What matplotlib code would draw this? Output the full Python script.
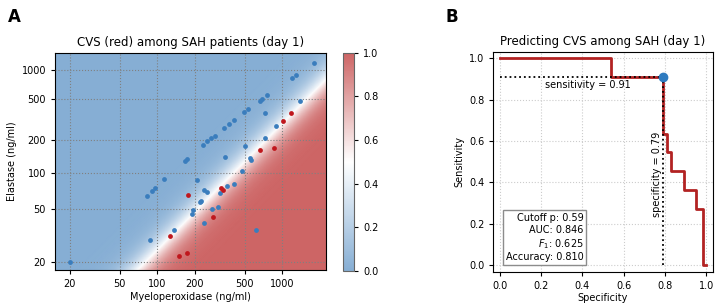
import numpy as np
import matplotlib
matplotlib.use("Agg")
import matplotlib.pyplot as plt
from matplotlib.colors import LinearSegmentedColormap
from matplotlib.ticker import FixedLocator, FixedFormatter, NullLocator

# ---------------- data ----------------
# Panel A: patients without CVS (blue) and with CVS (red)
mpo_neg = [20, 88, 137, 82, 91, 96, 113, 167, 174, 209, 189, 194, 219, 223, 237, 238,
           251, 275, 304, 317, 363, 407, 351, 231, 251, 270, 288, 340, 372, 411, 494,
           535, 503, 547, 562, 473, 616, 660, 692, 755, 727, 731, 889, 1195, 1294,
           1385, 1777]
ela_neg = [20, 29, 34, 64, 70, 74, 88, 128, 133, 87, 46, 49, 57, 58, 39, 71,
           69, 50, 52, 68, 78, 81, 138, 178, 193, 207, 218, 259, 279, 306, 367,
           396, 176, 136, 129, 104, 34, 479, 502, 547, 362, 208, 268, 825, 886,
           471, 1188]
mpo_pos = [127, 150, 174, 175, 281, 326, 337, 667, 862, 1012, 1184]
ela_pos = [31, 22, 23, 65, 43, 74, 71, 159, 167, 298, 362]

# logistic model for background probability (in axis-transformed coords)
coef_mpo = 5.0
coef_ela = -19.5
intercept = 11.85

tick_vals = [20, 50, 100, 200, 500, 1000]
tick_labels = ["20", "50", "100", "200", "500", "1000"]

# Panel B: ROC curve
roc_spec = [0.0, 0.54, 0.79, 0.81, 0.83, 0.89, 0.95, 0.985, 1.0]
roc_sens = [1.0, 0.909, 0.636, 0.545, 0.455, 0.364, 0.273, 0.0, 0.0]
cut_spec = 0.79
cut_sens = 0.909
stats_text = "Cutoff p: 0.59\nAUC: 0.846\n$F_1$: 0.625\nAccuracy: 0.810"

# ---------------- figure ----------------
fig = plt.figure(figsize=(7.19, 3.06), dpi=100)
axA = fig.add_axes([0.0765, 0.1176, 0.3765, 0.7108])
cax = fig.add_axes([0.4766, 0.1144, 0.0161, 0.7134])
axB = fig.add_axes([0.6861, 0.1127, 0.3051, 0.7173])

cmap = LinearSegmentedColormap.from_list("bwr_soft", ["#86aed4", "#ffffff", "#cd6565"])

fwd = lambda y: np.sqrt(np.log(np.clip(y, 1.0001, None)))
inv = lambda s: np.exp(np.asarray(s) ** 2)

axA.set_xscale("log")
axA.set_yscale("function", functions=(fwd, inv))
xlim = (15.2, 2224)
ylim = (17.6, 1533)

gx = np.geomspace(xlim[0], xlim[1], 500)
gy = np.geomspace(ylim[0], ylim[1], 500)
GX, GY = np.meshgrid(gx, gy)
logit = coef_mpo * np.log(GX) + coef_ela * np.sqrt(np.log(GY)) + intercept
P = 1 / (1 + np.exp(-logit))
mesh = axA.pcolormesh(GX, GY, P, cmap=cmap, vmin=0, vmax=1, shading="gouraud",
                      rasterized=True, zorder=0)

axA.scatter(mpo_neg, ela_neg, s=12, color="#3a7dbd", zorder=3, linewidths=0)
axA.scatter(mpo_pos, ela_pos, s=12, color="#c0171d", zorder=3, linewidths=0)

axA.set_xlim(*xlim)
axA.set_ylim(*ylim)
for axis in (axA.xaxis, axA.yaxis):
    axis.set_major_locator(FixedLocator(tick_vals))
    axis.set_major_formatter(FixedFormatter(tick_labels))
    axis.set_minor_locator(NullLocator())
axA.grid(True, linestyle=":", color="0.5", linewidth=0.8, zorder=1)
axA.set_axisbelow(False)
axA.tick_params(labelsize=7, length=3)
axA.set_title("CVS (red) among SAH patients (day 1)", fontsize=8.5, pad=5)
axA.set_xlabel("Myeloperoxidase (ng/ml)", fontsize=7, labelpad=2)
axA.set_ylabel("Elastase (ng/ml)", fontsize=7, labelpad=3)

cb = fig.colorbar(mesh, cax=cax)
cb.set_ticks([0.0, 0.2, 0.4, 0.6, 0.8, 1.0])
cb.ax.tick_params(labelsize=7, length=3)
cb.outline.set_edgecolor("0.4")

# Panel B
axB.plot(roc_spec, roc_sens, drawstyle="steps-post", color="#b22222", lw=2, zorder=3)
axB.plot([0, cut_spec], [cut_sens, cut_sens], color="black", ls=":", lw=1.3, zorder=4)
axB.plot([cut_spec, cut_spec], [0, cut_sens], color="black", ls=":", lw=1.3, zorder=4)
axB.plot([cut_spec], [cut_sens], "o", color="#2f7bbf", ms=6, zorder=5)
axB.text(cut_spec / 2 + 0.03, cut_sens - 0.015, "sensitivity = %.2f" % cut_sens,
         ha="center", va="top", fontsize=7)
axB.text(cut_spec - 0.005, 0.44, "specificity = %.2f" % cut_spec, rotation=90,
         ha="right", va="center", fontsize=7)
axB.text(0.405, 0.015, stats_text, ha="right", va="bottom", fontsize=7,
         multialignment="right",
         bbox=dict(boxstyle="square,pad=0.3", facecolor="white", edgecolor="0.55"))
axB.set_xlim(-0.03, 1.03)
axB.set_ylim(-0.03, 1.03)
axB.set_xticks([0.0, 0.2, 0.4, 0.6, 0.8, 1.0])
axB.set_yticks([0.0, 0.2, 0.4, 0.6, 0.8, 1.0])
axB.grid(True, linestyle=":", color="0.8", linewidth=0.8)
axB.set_axisbelow(True)
axB.tick_params(labelsize=7, length=3)
axB.set_title("Predicting CVS among SAH (day 1)", fontsize=8.5, pad=5)
axB.set_xlabel("Specificity", fontsize=7, labelpad=2)
axB.set_ylabel("Sensitivity", fontsize=7, labelpad=3)

fig.text(0.011, 0.975, "A", fontsize=12, fontweight="bold", ha="left", va="top")
fig.text(0.619, 0.975, "B", fontsize=12, fontweight="bold", ha="left", va="top")

fig.savefig("out.png", dpi=100)
